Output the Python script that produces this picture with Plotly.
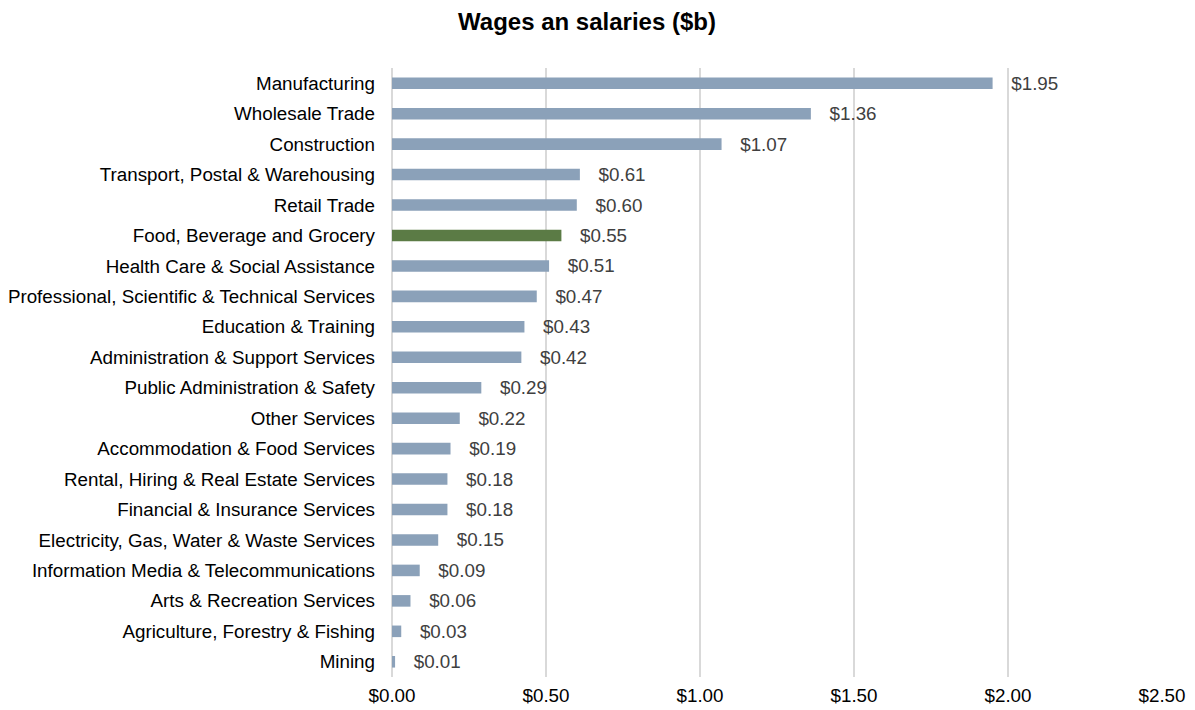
import plotly.graph_objects as go

categories = [
    "Manufacturing", "Wholesale Trade", "Construction",
    "Transport, Postal & Warehousing", "Retail Trade",
    "Food, Beverage and Grocery", "Health Care & Social Assistance",
    "Professional, Scientific & Technical Services", "Education & Training",
    "Administration & Support Services", "Public Administration & Safety",
    "Other Services", "Accommodation & Food Services",
    "Rental, Hiring & Real Estate Services", "Financial & Insurance Services",
    "Electricity, Gas, Water & Waste Services",
    "Information Media & Telecommunications", "Arts & Recreation Services",
    "Agriculture, Forestry & Fishing", "Mining",
]
values = [1.95, 1.36, 1.07, 0.61, 0.60, 0.55, 0.51, 0.47, 0.43, 0.42,
          0.29, 0.22, 0.19, 0.18, 0.18, 0.15, 0.09, 0.06, 0.03, 0.01]
highlight = "Food, Beverage and Grocery"
tick_vals = [0, 0.5, 1.0, 1.5, 2.0, 2.5]
tick_text = ["$0.00", "$0.50", "$1.00", "$1.50", "$2.00", "$2.50"]

FONT = "Liberation Sans, Arial"
FS = 18.8
colors = ["#5B7B45" if c == highlight else "#8BA1B9" for c in categories]
labels = ["   $%.2f" % v for v in values]

fig = go.Figure(go.Bar(
    y=categories, x=values, orientation="h",
    marker=dict(color=colors, line=dict(width=0)),
    text=labels, textposition="outside", constraintext="none",
    textfont=dict(family=FONT, size=FS, color="#404040"),
    cliponaxis=False,
))

fig.update_layout(
    width=1187, height=702,
    margin=dict(l=384, r=33, t=60, b=33),
    paper_bgcolor="white", plot_bgcolor="white",
    bargap=0.62,
    showlegend=False,
    title=dict(text="<b>Wages an salaries ($b)</b>", x=(587 - 8) / 1187, xanchor="center",
               y=1 - (22 - 8) / 702, yanchor="middle",
               font=dict(family=FONT, size=24, color="#000000")),
    font=dict(family=FONT, size=FS, color="#000000"),
)
fig.update_xaxes(
    range=[0, 2.5], tickvals=tick_vals, ticktext=tick_text,
    showgrid=True, gridcolor="#D9D9D9", gridwidth=2,
    zeroline=True, zerolinecolor="#D9D9D9", zerolinewidth=2,
    showline=False, ticks="",
    ticklabelstandoff=5,
    tickfont=dict(family=FONT, size=FS, color="#000000"),
    automargin=False,
)
fig.update_yaxes(
    categoryorder="array", categoryarray=categories, autorange="reversed",
    showgrid=False, showline=False, ticks="",
    ticklabelstandoff=16,
    tickfont=dict(family=FONT, size=FS, color="#000000"),
    automargin=False,
)

fig.write_html("out.html")
